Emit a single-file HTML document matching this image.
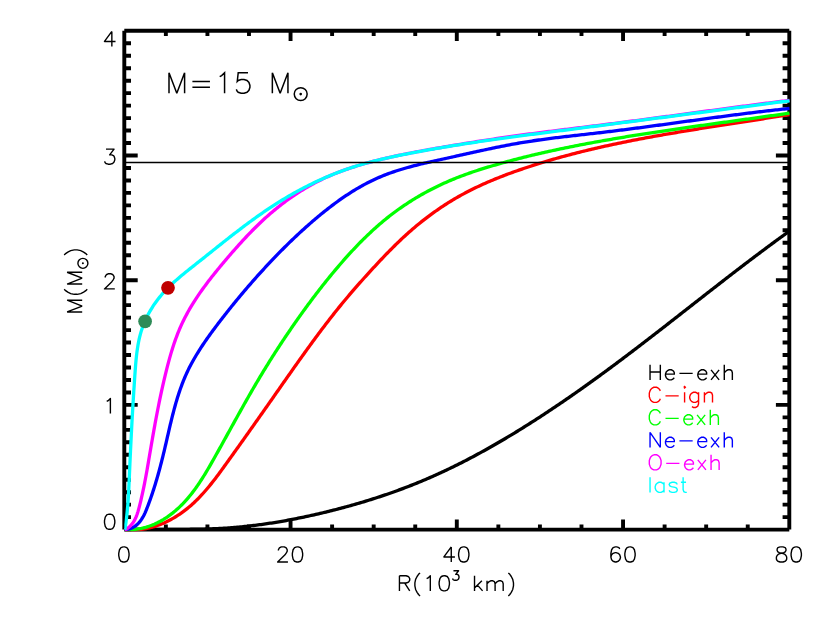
<!DOCTYPE html>
<html><head><meta charset="utf-8"><title>M(R) profile, M=15 Msun</title>
<style>html,body{margin:0;padding:0;background:#fff;font-family:"Liberation Sans",sans-serif}svg{display:block}</style>
</head><body>
<svg width="830" height="623" viewBox="0 0 830 623">
<rect width="830" height="623" fill="#fff"/>
<path d="M124.3 30.8 H789.3 M789.3 30.8 V529.6 M789.3 529.6 H124.3 M124.3 529.6 V30.8" fill="none" stroke="#000" stroke-width="3.9" stroke-linejoin="miter"/>
<path d="M165.86 529.6 v-5.1 M165.86 30.8 v5.1 M207.43 529.6 v-5.1 M207.43 30.8 v5.1 M248.99 529.6 v-5.1 M248.99 30.8 v5.1 M290.55 529.6 v-10.2 M290.55 30.8 v10.2 M332.11 529.6 v-5.1 M332.11 30.8 v5.1 M373.68 529.6 v-5.1 M373.68 30.8 v5.1 M415.24 529.6 v-5.1 M415.24 30.8 v5.1 M456.8 529.6 v-10.2 M456.8 30.8 v10.2 M498.36 529.6 v-5.1 M498.36 30.8 v5.1 M539.92 529.6 v-5.1 M539.92 30.8 v5.1 M581.49 529.6 v-5.1 M581.49 30.8 v5.1 M623.05 529.6 v-10.2 M623.05 30.8 v10.2 M664.61 529.6 v-5.1 M664.61 30.8 v5.1 M706.17 529.6 v-5.1 M706.17 30.8 v5.1 M747.74 529.6 v-5.1 M747.74 30.8 v5.1 M124.3 517.13 h6.7 M789.3 517.13 h-6.7 M124.3 504.66 h6.7 M789.3 504.66 h-6.7 M124.3 492.19 h6.7 M789.3 492.19 h-6.7 M124.3 479.72 h6.7 M789.3 479.72 h-6.7 M124.3 467.25 h6.7 M789.3 467.25 h-6.7 M124.3 454.78 h6.7 M789.3 454.78 h-6.7 M124.3 442.31 h6.7 M789.3 442.31 h-6.7 M124.3 429.84 h6.7 M789.3 429.84 h-6.7 M124.3 417.37 h6.7 M789.3 417.37 h-6.7 M124.3 404.9 h13.4 M789.3 404.9 h-13.4 M124.3 392.43 h6.7 M789.3 392.43 h-6.7 M124.3 379.96 h6.7 M789.3 379.96 h-6.7 M124.3 367.49 h6.7 M789.3 367.49 h-6.7 M124.3 355.02 h6.7 M789.3 355.02 h-6.7 M124.3 342.55 h6.7 M789.3 342.55 h-6.7 M124.3 330.08 h6.7 M789.3 330.08 h-6.7 M124.3 317.61 h6.7 M789.3 317.61 h-6.7 M124.3 305.14 h6.7 M789.3 305.14 h-6.7 M124.3 292.67 h6.7 M789.3 292.67 h-6.7 M124.3 280.2 h13.4 M789.3 280.2 h-13.4 M124.3 267.73 h6.7 M789.3 267.73 h-6.7 M124.3 255.26 h6.7 M789.3 255.26 h-6.7 M124.3 242.79 h6.7 M789.3 242.79 h-6.7 M124.3 230.32 h6.7 M789.3 230.32 h-6.7 M124.3 217.85 h6.7 M789.3 217.85 h-6.7 M124.3 205.38 h6.7 M789.3 205.38 h-6.7 M124.3 192.91 h6.7 M789.3 192.91 h-6.7 M124.3 180.44 h6.7 M789.3 180.44 h-6.7 M124.3 167.97 h6.7 M789.3 167.97 h-6.7 M124.3 155.5 h13.4 M789.3 155.5 h-13.4 M124.3 143.03 h6.7 M789.3 143.03 h-6.7 M124.3 130.56 h6.7 M789.3 130.56 h-6.7 M124.3 118.09 h6.7 M789.3 118.09 h-6.7 M124.3 105.62 h6.7 M789.3 105.62 h-6.7 M124.3 93.15 h6.7 M789.3 93.15 h-6.7 M124.3 80.68 h6.7 M789.3 80.68 h-6.7 M124.3 68.21 h6.7 M789.3 68.21 h-6.7 M124.3 55.74 h6.7 M789.3 55.74 h-6.7 M124.3 43.27 h6.7 M789.3 43.27 h-6.7" fill="none" stroke="#000" stroke-width="3.9"/>
<clipPath id="c"><rect x="124.3" y="30.8" width="666.9" height="500.7"/></clipPath>
<g fill="none" stroke-linejoin="round" stroke-linecap="butt" clip-path="url(#c)">
<path d="M124.61 529.65 L126.11 529.61 L127.6 529.57 L129.1 529.54 L130.59 529.5 L132.09 529.47 L133.59 529.44 L135.09 529.42 L136.58 529.4 L138.08 529.38 L139.58 529.36 L141.08 529.35 L142.58 529.33 L144.08 529.32 L145.58 529.31 L147.08 529.31 L148.58 529.3 L150.09 529.3 L151.59 529.29 L153.09 529.29 L154.59 529.29 L156.1 529.29 L157.6 529.29 L159.1 529.29 L160.61 529.3 L162.11 529.3 L163.61 529.3 L165.12 529.31 L166.62 529.31 L168.13 529.31 L169.63 529.32 L171.14 529.32 L172.64 529.32 L174.15 529.32 L175.65 529.32 L177.16 529.32 L178.66 529.32 L180.17 529.32 L181.67 529.32 L183.18 529.31 L184.68 529.31 L186.19 529.3 L187.69 529.29 L189.2 529.28 L190.7 529.27 L192.21 529.25 L193.71 529.24 L195.22 529.22 L196.72 529.2 L198.22 529.17 L199.73 529.14 L201.23 529.11 L202.74 529.08 L204.24 529.04 L205.74 529.01 L207.25 528.96 L208.75 528.92 L210.25 528.87 L211.75 528.81 L213.25 528.76 L214.76 528.69 L216.26 528.63 L217.76 528.56 L219.26 528.49 L220.76 528.41 L222.26 528.32 L223.76 528.24 L225.25 528.14 L226.75 528.05 L228.25 527.94 L229.75 527.84 L231.24 527.73 L232.74 527.61 L234.24 527.49 L235.73 527.36 L237.23 527.23 L238.72 527.1 L240.22 526.96 L241.71 526.81 L243.2 526.66 L244.69 526.51 L246.19 526.35 L247.68 526.19 L249.17 526.02 L250.66 525.85 L252.15 525.67 L253.64 525.49 L255.13 525.31 L256.62 525.12 L258.1 524.93 L259.59 524.73 L261.08 524.53 L262.56 524.33 L264.05 524.12 L265.54 523.9 L267.02 523.69 L268.51 523.47 L269.99 523.24 L271.47 523.01 L272.95 522.78 L274.44 522.54 L275.92 522.3 L277.4 522.05 L278.88 521.81 L280.36 521.55 L281.84 521.3 L283.32 521.04 L284.79 520.77 L286.27 520.51 L287.75 520.24 L289.23 519.96 L290.7 519.68 L292.18 519.4 L293.65 519.12 L295.12 518.83 L296.6 518.54 L298.07 518.24 L299.54 517.95 L301.01 517.64 L302.48 517.34 L303.96 517.03 L305.42 516.72 L306.89 516.4 L308.36 516.09 L309.83 515.76 L311.3 515.44 L312.76 515.11 L314.23 514.78 L315.69 514.45 L317.16 514.11 L318.62 513.77 L320.09 513.43 L321.55 513.09 L323.01 512.74 L324.47 512.39 L325.93 512.03 L327.39 511.68 L328.85 511.32 L330.31 510.96 L331.77 510.59 L333.22 510.22 L334.68 509.85 L336.13 509.48 L337.59 509.1 L339.04 508.72 L340.5 508.34 L341.95 507.95 L343.4 507.56 L344.85 507.17 L346.3 506.78 L347.75 506.38 L349.19 505.98 L350.64 505.57 L352.09 505.17 L353.53 504.76 L354.98 504.34 L356.42 503.93 L357.86 503.51 L359.3 503.09 L360.74 502.66 L362.18 502.23 L363.62 501.8 L365.06 501.36 L366.5 500.93 L367.93 500.48 L369.36 500.04 L370.8 499.59 L372.23 499.14 L373.66 498.69 L375.09 498.23 L376.52 497.77 L377.95 497.3 L379.37 496.83 L380.8 496.36 L382.22 495.89 L383.64 495.41 L385.06 494.93 L386.49 494.44 L387.9 493.95 L389.32 493.46 L390.74 492.96 L392.15 492.47 L393.57 491.96 L394.98 491.46 L396.39 490.95 L397.8 490.43 L399.21 489.92 L400.62 489.4 L402.02 488.87 L403.43 488.35 L404.83 487.82 L406.23 487.28 L407.63 486.74 L409.03 486.2 L410.43 485.66 L411.83 485.11 L413.22 484.55 L414.61 484 L416 483.44 L417.39 482.87 L418.78 482.3 L420.17 481.73 L421.55 481.16 L422.94 480.58 L424.32 479.99 L425.7 479.41 L427.08 478.82 L428.46 478.22 L429.83 477.62 L431.21 477.02 L432.58 476.42 L433.95 475.81 L435.32 475.19 L436.69 474.58 L438.06 473.96 L439.42 473.33 L440.79 472.71 L442.15 472.08 L443.51 471.44 L444.87 470.8 L446.22 470.16 L447.58 469.52 L448.93 468.87 L450.29 468.22 L451.64 467.57 L452.99 466.91 L454.34 466.25 L455.68 465.58 L457.03 464.92 L458.37 464.25 L459.72 463.57 L461.06 462.9 L462.4 462.22 L463.73 461.53 L465.07 460.85 L466.41 460.16 L467.74 459.46 L469.07 458.77 L470.4 458.07 L471.73 457.37 L473.06 456.67 L474.39 455.96 L475.71 455.25 L477.03 454.54 L478.36 453.82 L479.68 453.11 L481 452.39 L482.32 451.66 L483.63 450.94 L484.95 450.21 L486.26 449.48 L487.57 448.74 L488.88 448.01 L490.19 447.27 L491.5 446.53 L492.81 445.78 L494.11 445.04 L495.42 444.29 L496.72 443.54 L498.02 442.78 L499.32 442.03 L500.62 441.27 L501.92 440.51 L503.22 439.75 L504.51 438.98 L505.8 438.22 L507.1 437.45 L508.39 436.67 L509.68 435.9 L510.97 435.13 L512.25 434.35 L513.54 433.57 L514.82 432.79 L516.11 432 L517.39 431.22 L518.67 430.43 L519.95 429.64 L521.22 428.85 L522.5 428.05 L523.78 427.26 L525.05 426.46 L526.32 425.66 L527.6 424.86 L528.87 424.06 L530.14 423.26 L531.4 422.45 L532.67 421.64 L533.94 420.83 L535.2 420.02 L536.46 419.21 L537.73 418.39 L538.99 417.58 L540.25 416.76 L541.5 415.94 L542.76 415.12 L544.02 414.3 L545.27 413.47 L546.53 412.65 L547.78 411.82 L549.03 410.99 L550.28 410.16 L551.53 409.33 L552.78 408.49 L554.03 407.66 L555.27 406.82 L556.52 405.98 L557.76 405.14 L559.01 404.3 L560.25 403.46 L561.49 402.62 L562.73 401.77 L563.97 400.92 L565.21 400.07 L566.45 399.22 L567.68 398.37 L568.92 397.52 L570.15 396.67 L571.39 395.81 L572.62 394.95 L573.85 394.1 L575.08 393.24 L576.31 392.38 L577.54 391.51 L578.77 390.65 L579.99 389.79 L581.22 388.92 L582.44 388.05 L583.67 387.18 L584.89 386.32 L586.11 385.44 L587.34 384.57 L588.56 383.7 L589.78 382.83 L591 381.95 L592.21 381.07 L593.43 380.2 L594.65 379.32 L595.86 378.44 L597.08 377.56 L598.29 376.67 L599.51 375.79 L600.72 374.91 L601.93 374.02 L603.14 373.13 L604.35 372.25 L605.56 371.36 L606.77 370.47 L607.98 369.58 L609.19 368.69 L610.4 367.8 L611.6 366.9 L612.81 366.01 L614.01 365.11 L615.22 364.22 L616.42 363.32 L617.63 362.42 L618.83 361.52 L620.03 360.62 L621.23 359.72 L622.43 358.82 L623.63 357.92 L624.83 357.02 L626.03 356.11 L627.23 355.21 L628.43 354.3 L629.62 353.4 L630.82 352.49 L632.02 351.58 L633.21 350.67 L634.41 349.76 L635.6 348.85 L636.79 347.94 L637.99 347.03 L639.18 346.12 L640.37 345.21 L641.57 344.3 L642.76 343.38 L643.95 342.47 L645.14 341.55 L646.33 340.64 L647.52 339.72 L648.71 338.81 L649.9 337.89 L651.09 336.97 L652.28 336.05 L653.47 335.14 L654.65 334.22 L655.84 333.3 L657.03 332.38 L658.22 331.46 L659.4 330.54 L660.59 329.62 L661.78 328.7 L662.96 327.77 L664.15 326.85 L665.33 325.93 L666.52 325.01 L667.7 324.08 L668.89 323.16 L670.07 322.24 L671.26 321.31 L672.44 320.39 L673.63 319.47 L674.81 318.54 L675.99 317.62 L677.18 316.69 L678.36 315.77 L679.54 314.84 L680.73 313.92 L681.91 312.99 L683.09 312.07 L684.28 311.14 L685.46 310.22 L686.64 309.29 L687.83 308.37 L689.01 307.44 L690.19 306.52 L691.38 305.59 L692.56 304.66 L693.74 303.74 L694.93 302.81 L696.11 301.89 L697.29 300.96 L698.48 300.04 L699.66 299.11 L700.84 298.19 L702.03 297.26 L703.21 296.34 L704.4 295.41 L705.58 294.49 L706.76 293.56 L707.95 292.64 L709.13 291.72 L710.32 290.79 L711.5 289.87 L712.69 288.95 L713.87 288.02 L715.06 287.1 L716.24 286.18 L717.43 285.26 L718.62 284.33 L719.8 283.41 L720.99 282.49 L722.18 281.57 L723.36 280.65 L724.55 279.73 L725.74 278.81 L726.93 277.89 L728.12 276.98 L729.3 276.06 L730.49 275.14 L731.68 274.22 L732.87 273.31 L734.06 272.39 L735.25 271.48 L736.45 270.56 L737.64 269.65 L738.83 268.73 L740.02 267.82 L741.22 266.91 L742.41 266 L743.6 265.09 L744.8 264.17 L745.99 263.27 L747.19 262.36 L748.38 261.45 L749.58 260.54 L750.78 259.63 L751.97 258.73 L753.17 257.82 L754.37 256.92 L755.57 256.01 L756.77 255.11 L757.97 254.21 L759.17 253.31 L760.37 252.41 L761.58 251.51 L762.78 250.61 L763.98 249.71 L765.19 248.81 L766.39 247.92 L767.6 247.02 L768.8 246.13 L770.01 245.23 L771.22 244.34 L772.43 243.45 L773.64 242.56 L774.85 241.67 L776.06 240.78 L777.27 239.89 L778.48 239.01 L779.7 238.12 L780.91 237.24 L782.12 236.36 L783.34 235.47 L784.56 234.59 L785.77 233.71 L786.99 232.84 L788.21 231.96 L789.43 231.08" stroke="#000" stroke-width="3.3"/>
<path d="M124.56 529.49 L126.27 529.66 L127.98 529.79 L129.68 529.88 L131.37 529.92 L133.06 529.93 L134.74 529.89 L136.42 529.82 L138.09 529.7 L139.75 529.55 L141.4 529.36 L143.04 529.13 L144.68 528.87 L146.3 528.57 L147.92 528.24 L149.53 527.87 L151.13 527.47 L152.73 527.04 L154.31 526.57 L155.88 526.07 L157.44 525.54 L158.99 524.98 L160.53 524.39 L162.06 523.77 L163.58 523.13 L165.09 522.45 L166.58 521.75 L168.07 521.02 L169.54 520.26 L171 519.48 L172.45 518.67 L173.88 517.84 L175.3 516.99 L176.71 516.11 L178.11 515.21 L179.49 514.29 L180.86 513.35 L182.21 512.39 L183.55 511.41 L184.87 510.41 L186.18 509.39 L187.48 508.35 L188.76 507.29 L190.02 506.22 L191.27 505.14 L192.5 504.03 L193.72 502.92 L194.92 501.78 L196.11 500.64 L197.29 499.48 L198.45 498.3 L199.6 497.12 L200.74 495.92 L201.86 494.71 L202.97 493.49 L204.08 492.26 L205.17 491.01 L206.25 489.76 L207.32 488.5 L208.39 487.23 L209.44 485.95 L210.49 484.66 L211.53 483.37 L212.56 482.07 L213.58 480.76 L214.6 479.45 L215.61 478.13 L216.61 476.8 L217.61 475.47 L218.61 474.14 L219.6 472.8 L220.59 471.46 L221.57 470.12 L222.55 468.77 L223.53 467.43 L224.5 466.08 L225.47 464.73 L226.44 463.38 L227.41 462.03 L228.38 460.68 L229.35 459.33 L230.32 457.98 L231.29 456.63 L232.26 455.28 L233.22 453.93 L234.19 452.59 L235.15 451.24 L236.11 449.89 L237.08 448.54 L238.04 447.19 L239 445.84 L239.96 444.49 L240.92 443.15 L241.88 441.8 L242.84 440.45 L243.8 439.1 L244.76 437.75 L245.72 436.4 L246.67 435.06 L247.63 433.71 L248.58 432.36 L249.54 431.01 L250.5 429.66 L251.45 428.31 L252.4 426.96 L253.36 425.61 L254.31 424.26 L255.26 422.91 L256.22 421.56 L257.17 420.21 L258.12 418.86 L259.07 417.51 L260.02 416.16 L260.97 414.81 L261.92 413.46 L262.87 412.11 L263.82 410.76 L264.77 409.41 L265.72 408.05 L266.67 406.7 L267.62 405.35 L268.57 404 L269.52 402.64 L270.46 401.29 L271.41 399.94 L272.36 398.58 L273.31 397.23 L274.26 395.87 L275.21 394.52 L276.15 393.16 L277.1 391.8 L278.05 390.45 L279 389.09 L279.95 387.74 L280.89 386.38 L281.84 385.02 L282.79 383.67 L283.74 382.31 L284.69 380.95 L285.64 379.6 L286.59 378.24 L287.54 376.89 L288.5 375.53 L289.45 374.18 L290.4 372.82 L291.36 371.47 L292.31 370.11 L293.27 368.76 L294.22 367.4 L295.18 366.05 L296.14 364.7 L297.1 363.35 L298.06 362 L299.02 360.65 L299.98 359.3 L300.94 357.95 L301.9 356.6 L302.87 355.25 L303.84 353.91 L304.8 352.56 L305.77 351.22 L306.74 349.87 L307.71 348.53 L308.69 347.19 L309.66 345.85 L310.64 344.51 L311.61 343.17 L312.59 341.84 L313.57 340.5 L314.56 339.17 L315.54 337.83 L316.53 336.5 L317.51 335.17 L318.5 333.84 L319.49 332.52 L320.49 331.19 L321.48 329.86 L322.48 328.54 L323.48 327.22 L324.48 325.9 L325.48 324.59 L326.49 323.27 L327.5 321.96 L328.51 320.65 L329.52 319.34 L330.54 318.03 L331.55 316.72 L332.58 315.42 L333.6 314.12 L334.63 312.82 L335.66 311.53 L336.69 310.24 L337.73 308.95 L338.77 307.66 L339.81 306.38 L340.85 305.09 L341.9 303.82 L342.95 302.54 L344.01 301.27 L345.07 300 L346.13 298.73 L347.19 297.46 L348.26 296.2 L349.33 294.94 L350.41 293.68 L351.48 292.43 L352.56 291.17 L353.64 289.92 L354.73 288.67 L355.81 287.43 L356.9 286.18 L357.99 284.94 L359.09 283.7 L360.18 282.46 L361.28 281.22 L362.38 279.99 L363.49 278.75 L364.59 277.52 L365.7 276.29 L366.81 275.07 L367.92 273.84 L369.04 272.61 L370.15 271.39 L371.27 270.17 L372.39 268.95 L373.51 267.73 L374.63 266.51 L375.76 265.3 L376.89 264.08 L378.02 262.87 L379.15 261.66 L380.29 260.45 L381.42 259.25 L382.56 258.05 L383.71 256.85 L384.85 255.65 L386 254.46 L387.16 253.27 L388.32 252.08 L389.48 250.9 L390.64 249.72 L391.81 248.55 L392.98 247.38 L394.16 246.21 L395.34 245.05 L396.52 243.89 L397.71 242.74 L398.9 241.59 L400.1 240.44 L401.3 239.31 L402.51 238.17 L403.73 237.04 L404.94 235.92 L406.17 234.81 L407.4 233.7 L408.63 232.59 L409.87 231.49 L411.12 230.4 L412.37 229.32 L413.63 228.24 L414.89 227.17 L416.16 226.1 L417.43 225.04 L418.72 223.99 L420 222.95 L421.3 221.91 L422.59 220.88 L423.9 219.86 L425.21 218.84 L426.52 217.83 L427.84 216.83 L429.17 215.83 L430.5 214.85 L431.84 213.87 L433.18 212.9 L434.53 211.93 L435.89 210.98 L437.25 210.03 L438.61 209.09 L439.98 208.16 L441.36 207.23 L442.74 206.32 L444.12 205.41 L445.51 204.51 L446.91 203.62 L448.31 202.73 L449.72 201.86 L451.13 200.99 L452.55 200.14 L453.97 199.29 L455.39 198.45 L456.83 197.62 L458.26 196.79 L459.7 195.98 L461.15 195.17 L462.6 194.38 L464.06 193.59 L465.52 192.81 L466.98 192.04 L468.45 191.28 L469.92 190.53 L471.4 189.78 L472.88 189.05 L474.37 188.32 L475.86 187.6 L477.35 186.88 L478.85 186.18 L480.35 185.48 L481.86 184.79 L483.36 184.11 L484.88 183.43 L486.39 182.76 L487.91 182.1 L489.43 181.45 L490.96 180.8 L492.48 180.16 L494.02 179.52 L495.55 178.89 L497.09 178.27 L498.63 177.66 L500.17 177.05 L501.71 176.44 L503.26 175.84 L504.81 175.25 L506.36 174.67 L507.91 174.08 L509.47 173.51 L511.02 172.94 L512.58 172.37 L514.14 171.81 L515.71 171.26 L517.27 170.71 L518.84 170.16 L520.4 169.62 L521.97 169.08 L523.54 168.55 L525.11 168.02 L526.69 167.5 L528.26 166.98 L529.83 166.46 L531.41 165.95 L532.99 165.44 L534.56 164.94 L536.14 164.44 L537.72 163.94 L539.3 163.45 L540.89 162.96 L542.47 162.48 L544.05 162 L545.64 161.52 L547.22 161.05 L548.81 160.58 L550.4 160.11 L551.99 159.65 L553.58 159.19 L555.17 158.73 L556.76 158.28 L558.35 157.84 L559.94 157.39 L561.54 156.95 L563.13 156.51 L564.73 156.08 L566.33 155.65 L567.92 155.22 L569.52 154.8 L571.12 154.37 L572.72 153.96 L574.32 153.54 L575.92 153.13 L577.53 152.72 L579.13 152.32 L580.74 151.92 L582.34 151.52 L583.95 151.12 L585.55 150.73 L587.16 150.34 L588.77 149.95 L590.38 149.57 L591.99 149.18 L593.6 148.81 L595.21 148.43 L596.82 148.06 L598.43 147.69 L600.05 147.32 L601.66 146.95 L603.28 146.59 L604.89 146.23 L606.51 145.87 L608.12 145.52 L609.74 145.17 L611.36 144.82 L612.98 144.47 L614.6 144.13 L616.22 143.78 L617.84 143.44 L619.46 143.1 L621.08 142.77 L622.7 142.44 L624.32 142.11 L625.95 141.78 L627.57 141.45 L629.19 141.12 L630.82 140.8 L632.44 140.48 L634.07 140.16 L635.69 139.85 L637.32 139.53 L638.95 139.22 L640.58 138.91 L642.2 138.6 L643.83 138.29 L645.46 137.99 L647.09 137.69 L648.72 137.38 L650.35 137.08 L651.98 136.79 L653.61 136.49 L655.24 136.2 L656.88 135.9 L658.51 135.61 L660.14 135.32 L661.77 135.03 L663.41 134.74 L665.04 134.46 L666.67 134.17 L668.31 133.89 L669.94 133.61 L671.58 133.33 L673.21 133.05 L674.85 132.77 L676.48 132.5 L678.12 132.22 L679.75 131.95 L681.39 131.67 L683.03 131.4 L684.66 131.13 L686.3 130.86 L687.94 130.59 L689.58 130.32 L691.21 130.06 L692.85 129.79 L694.49 129.53 L696.13 129.26 L697.76 129 L699.4 128.73 L701.04 128.47 L702.68 128.21 L704.32 127.95 L705.96 127.69 L707.6 127.43 L709.24 127.17 L710.87 126.91 L712.51 126.66 L714.15 126.4 L715.79 126.14 L717.43 125.88 L719.07 125.63 L720.71 125.37 L722.35 125.12 L723.99 124.86 L725.63 124.61 L727.27 124.35 L728.91 124.1 L730.55 123.85 L732.19 123.59 L733.82 123.34 L735.46 123.08 L737.1 122.83 L738.74 122.58 L740.38 122.32 L742.02 122.07 L743.66 121.82 L745.3 121.56 L746.94 121.31 L748.57 121.05 L750.21 120.8 L751.85 120.54 L753.49 120.29 L755.13 120.03 L756.76 119.78 L758.4 119.52 L760.04 119.27 L761.68 119.01 L763.31 118.75 L764.95 118.49 L766.59 118.24 L768.22 117.98 L769.86 117.72 L771.49 117.46 L773.13 117.2 L774.77 116.94 L776.4 116.67 L778.03 116.41 L779.67 116.15 L781.3 115.88 L782.94 115.62 L784.57 115.35 L786.2 115.09 L787.84 114.82 L789.47 114.55" stroke="#ff0000" stroke-width="3.3"/>
<path d="M124.5 529.44 L126.27 529.56 L128.02 529.62 L129.76 529.63 L131.49 529.59 L133.21 529.5 L134.91 529.36 L136.61 529.17 L138.28 528.93 L139.95 528.65 L141.6 528.33 L143.24 527.96 L144.87 527.54 L146.48 527.09 L148.08 526.59 L149.66 526.06 L151.23 525.48 L152.78 524.87 L154.32 524.22 L155.84 523.53 L157.35 522.81 L158.84 522.05 L160.31 521.27 L161.77 520.45 L163.22 519.6 L164.64 518.72 L166.05 517.81 L167.45 516.87 L168.82 515.9 L170.18 514.91 L171.52 513.9 L172.85 512.86 L174.15 511.79 L175.44 510.71 L176.71 509.6 L177.96 508.48 L179.19 507.34 L180.4 506.17 L181.59 504.99 L182.77 503.8 L183.92 502.59 L185.06 501.36 L186.18 500.12 L187.29 498.86 L188.37 497.59 L189.44 496.31 L190.5 495.01 L191.54 493.7 L192.57 492.38 L193.58 491.05 L194.58 489.71 L195.57 488.35 L196.54 486.98 L197.5 485.61 L198.45 484.23 L199.39 482.83 L200.32 481.43 L201.24 480.02 L202.15 478.6 L203.05 477.18 L203.94 475.75 L204.83 474.31 L205.71 472.87 L206.58 471.42 L207.44 469.97 L208.3 468.51 L209.15 467.05 L210 465.59 L210.84 464.12 L211.68 462.65 L212.52 461.18 L213.35 459.71 L214.18 458.23 L215.01 456.76 L215.84 455.29 L216.67 453.81 L217.49 452.34 L218.31 450.86 L219.14 449.39 L219.96 447.91 L220.78 446.44 L221.6 444.96 L222.42 443.49 L223.23 442.01 L224.05 440.54 L224.87 439.06 L225.68 437.59 L226.5 436.12 L227.31 434.64 L228.12 433.17 L228.94 431.7 L229.75 430.22 L230.57 428.75 L231.38 427.28 L232.19 425.81 L233.01 424.33 L233.82 422.86 L234.63 421.39 L235.45 419.92 L236.26 418.45 L237.08 416.98 L237.9 415.52 L238.71 414.05 L239.53 412.58 L240.35 411.12 L241.17 409.65 L241.99 408.19 L242.81 406.72 L243.63 405.26 L244.46 403.8 L245.28 402.34 L246.11 400.88 L246.94 399.42 L247.77 397.96 L248.6 396.5 L249.43 395.04 L250.27 393.59 L251.1 392.13 L251.94 390.68 L252.78 389.23 L253.62 387.78 L254.47 386.33 L255.32 384.88 L256.17 383.44 L257.02 381.99 L257.87 380.55 L258.73 379.1 L259.59 377.66 L260.45 376.22 L261.32 374.78 L262.18 373.35 L263.05 371.91 L263.93 370.48 L264.8 369.05 L265.68 367.61 L266.56 366.18 L267.45 364.76 L268.33 363.33 L269.22 361.91 L270.11 360.48 L271.01 359.06 L271.9 357.64 L272.8 356.22 L273.71 354.8 L274.61 353.39 L275.52 351.97 L276.43 350.56 L277.34 349.15 L278.26 347.74 L279.18 346.33 L280.1 344.92 L281.02 343.52 L281.95 342.12 L282.88 340.71 L283.81 339.31 L284.74 337.91 L285.68 336.52 L286.62 335.12 L287.56 333.73 L288.5 332.34 L289.45 330.95 L290.4 329.56 L291.35 328.17 L292.31 326.78 L293.27 325.4 L294.23 324.02 L295.19 322.64 L296.16 321.26 L297.12 319.88 L298.1 318.51 L299.07 317.13 L300.05 315.76 L301.02 314.39 L302.01 313.02 L302.99 311.65 L303.98 310.29 L304.97 308.93 L305.96 307.56 L306.95 306.21 L307.95 304.85 L308.95 303.49 L309.96 302.14 L310.96 300.79 L311.97 299.44 L312.98 298.09 L314 296.75 L315.02 295.41 L316.04 294.07 L317.06 292.73 L318.09 291.4 L319.12 290.06 L320.15 288.73 L321.19 287.41 L322.23 286.08 L323.27 284.76 L324.32 283.44 L325.37 282.13 L326.42 280.81 L327.48 279.5 L328.54 278.19 L329.6 276.89 L330.67 275.59 L331.74 274.29 L332.81 272.99 L333.89 271.7 L334.97 270.41 L336.05 269.12 L337.14 267.84 L338.23 266.56 L339.32 265.28 L340.42 264.01 L341.52 262.74 L342.62 261.47 L343.73 260.21 L344.84 258.95 L345.96 257.7 L347.08 256.45 L348.21 255.2 L349.33 253.96 L350.47 252.72 L351.61 251.48 L352.75 250.25 L353.89 249.03 L355.04 247.81 L356.2 246.59 L357.36 245.38 L358.53 244.17 L359.7 242.97 L360.87 241.78 L362.05 240.59 L363.24 239.41 L364.43 238.23 L365.63 237.06 L366.83 235.89 L368.04 234.73 L369.26 233.58 L370.48 232.43 L371.7 231.29 L372.93 230.15 L374.17 229.02 L375.42 227.9 L376.67 226.79 L377.93 225.68 L379.19 224.58 L380.46 223.49 L381.74 222.41 L383.02 221.33 L384.31 220.26 L385.61 219.2 L386.92 218.14 L388.23 217.1 L389.55 216.06 L390.88 215.03 L392.21 214.01 L393.55 212.99 L394.9 211.99 L396.26 210.99 L397.62 210.01 L398.99 209.03 L400.36 208.06 L401.75 207.09 L403.14 206.14 L404.53 205.2 L405.94 204.26 L407.34 203.33 L408.76 202.41 L410.18 201.5 L411.61 200.6 L413.04 199.71 L414.48 198.83 L415.92 197.95 L417.37 197.09 L418.83 196.23 L420.29 195.39 L421.76 194.55 L423.23 193.72 L424.7 192.9 L426.18 192.09 L427.67 191.29 L429.16 190.49 L430.66 189.71 L432.16 188.94 L433.66 188.17 L435.17 187.42 L436.69 186.67 L438.21 185.93 L439.73 185.21 L441.25 184.49 L442.78 183.78 L444.32 183.08 L445.86 182.4 L447.4 181.72 L448.94 181.05 L450.49 180.39 L452.04 179.74 L453.6 179.1 L455.16 178.46 L456.72 177.84 L458.28 177.23 L459.85 176.62 L461.42 176.02 L462.99 175.43 L464.57 174.85 L466.15 174.28 L467.73 173.71 L469.32 173.15 L470.9 172.6 L472.49 172.06 L474.08 171.52 L475.68 170.99 L477.27 170.46 L478.87 169.94 L480.47 169.43 L482.07 168.92 L483.67 168.42 L485.28 167.92 L486.88 167.43 L488.49 166.94 L490.1 166.46 L491.71 165.99 L493.33 165.51 L494.94 165.05 L496.56 164.58 L498.17 164.12 L499.79 163.67 L501.41 163.21 L503.03 162.76 L504.65 162.32 L506.27 161.87 L507.89 161.44 L509.51 161 L511.14 160.57 L512.76 160.14 L514.39 159.71 L516.02 159.29 L517.64 158.87 L519.27 158.45 L520.9 158.04 L522.53 157.63 L524.16 157.22 L525.79 156.82 L527.43 156.42 L529.06 156.02 L530.69 155.62 L532.33 155.23 L533.96 154.84 L535.6 154.45 L537.23 154.07 L538.87 153.69 L540.51 153.31 L542.15 152.94 L543.79 152.56 L545.43 152.19 L547.07 151.83 L548.71 151.46 L550.35 151.1 L552 150.74 L553.64 150.38 L555.28 150.03 L556.93 149.68 L558.57 149.33 L560.22 148.98 L561.86 148.63 L563.51 148.29 L565.16 147.95 L566.81 147.61 L568.45 147.28 L570.1 146.94 L571.75 146.61 L573.4 146.28 L575.05 145.96 L576.7 145.63 L578.35 145.31 L580 144.99 L581.66 144.67 L583.31 144.36 L584.96 144.04 L586.61 143.73 L588.27 143.42 L589.92 143.11 L591.57 142.8 L593.23 142.5 L594.88 142.19 L596.54 141.89 L598.19 141.59 L599.85 141.3 L601.5 141 L603.16 140.7 L604.82 140.41 L606.47 140.12 L608.13 139.83 L609.79 139.54 L611.44 139.26 L613.1 138.97 L614.76 138.69 L616.42 138.41 L618.07 138.12 L619.73 137.85 L621.39 137.57 L623.05 137.29 L624.71 137.02 L626.37 136.74 L628.03 136.47 L629.69 136.2 L631.35 135.93 L633.01 135.66 L634.67 135.4 L636.33 135.13 L637.99 134.87 L639.65 134.6 L641.31 134.34 L642.97 134.08 L644.63 133.82 L646.29 133.56 L647.96 133.3 L649.62 133.05 L651.28 132.79 L652.94 132.54 L654.6 132.28 L656.27 132.03 L657.93 131.78 L659.59 131.53 L661.25 131.28 L662.92 131.03 L664.58 130.78 L666.24 130.53 L667.91 130.29 L669.57 130.04 L671.23 129.8 L672.9 129.55 L674.56 129.31 L676.23 129.07 L677.89 128.83 L679.55 128.59 L681.22 128.34 L682.88 128.1 L684.55 127.87 L686.21 127.63 L687.88 127.39 L689.54 127.15 L691.21 126.91 L692.87 126.68 L694.54 126.44 L696.2 126.21 L697.87 125.97 L699.53 125.74 L701.2 125.5 L702.86 125.27 L704.53 125.04 L706.19 124.8 L707.86 124.57 L709.52 124.34 L711.19 124.1 L712.86 123.87 L714.52 123.64 L716.19 123.41 L717.85 123.18 L719.52 122.95 L721.18 122.72 L722.85 122.48 L724.52 122.25 L726.18 122.02 L727.85 121.79 L729.51 121.56 L731.18 121.33 L732.85 121.1 L734.51 120.87 L736.18 120.64 L737.84 120.41 L739.51 120.18 L741.17 119.95 L742.84 119.72 L744.51 119.48 L746.17 119.25 L747.84 119.02 L749.5 118.79 L751.17 118.56 L752.83 118.32 L754.5 118.09 L756.16 117.86 L757.83 117.63 L759.5 117.39 L761.16 117.16 L762.83 116.92 L764.49 116.69 L766.16 116.45 L767.82 116.22 L769.49 115.98 L771.15 115.74 L772.82 115.51 L774.48 115.27 L776.15 115.03 L777.81 114.79 L779.47 114.55 L781.14 114.31 L782.8 114.07 L784.47 113.83 L786.13 113.59 L787.8 113.34 L789.46 113.1" stroke="#00ff00" stroke-width="3.3"/>
<path d="M124.42 529.65 L126.44 529.44 L128.34 529.08 L130.11 528.58 L131.77 527.96 L133.32 527.21 L134.77 526.34 L136.12 525.37 L137.38 524.3 L138.56 523.14 L139.66 521.9 L140.68 520.57 L141.64 519.18 L142.54 517.73 L143.38 516.23 L144.18 514.68 L144.93 513.09 L145.65 511.47 L146.33 509.82 L146.99 508.16 L147.64 506.5 L148.27 504.83 L148.89 503.17 L149.5 501.5 L150.09 499.84 L150.68 498.18 L151.26 496.51 L151.83 494.85 L152.39 493.19 L152.94 491.54 L153.48 489.88 L154.01 488.22 L154.54 486.56 L155.05 484.9 L155.56 483.24 L156.06 481.58 L156.55 479.93 L157.04 478.27 L157.52 476.61 L157.99 474.94 L158.46 473.28 L158.92 471.62 L159.37 469.95 L159.82 468.29 L160.26 466.62 L160.7 464.95 L161.13 463.28 L161.56 461.61 L161.98 459.93 L162.4 458.26 L162.82 456.58 L163.23 454.89 L163.64 453.21 L164.04 451.52 L164.45 449.83 L164.85 448.14 L165.24 446.44 L165.64 444.75 L166.03 443.05 L166.42 441.34 L166.82 439.64 L167.21 437.93 L167.6 436.22 L167.99 434.51 L168.39 432.8 L168.78 431.09 L169.18 429.38 L169.58 427.66 L169.98 425.95 L170.39 424.24 L170.8 422.53 L171.21 420.82 L171.63 419.11 L172.05 417.4 L172.48 415.7 L172.91 413.99 L173.35 412.29 L173.8 410.59 L174.25 408.89 L174.71 407.2 L175.18 405.51 L175.66 403.82 L176.14 402.14 L176.64 400.46 L177.14 398.78 L177.66 397.11 L178.18 395.45 L178.72 393.78 L179.27 392.13 L179.83 390.48 L180.4 388.83 L180.98 387.19 L181.58 385.56 L182.19 383.94 L182.81 382.32 L183.45 380.71 L184.11 379.1 L184.78 377.5 L185.46 375.91 L186.16 374.33 L186.88 372.76 L187.61 371.2 L188.36 369.64 L189.13 368.09 L189.91 366.55 L190.71 365.02 L191.52 363.5 L192.34 361.98 L193.18 360.47 L194.03 358.97 L194.9 357.47 L195.78 355.98 L196.67 354.5 L197.57 353.02 L198.49 351.55 L199.41 350.08 L200.35 348.62 L201.29 347.17 L202.25 345.72 L203.21 344.27 L204.18 342.84 L205.17 341.4 L206.16 339.97 L207.16 338.54 L208.16 337.12 L209.17 335.7 L210.19 334.29 L211.22 332.88 L212.25 331.47 L213.29 330.07 L214.33 328.67 L215.37 327.27 L216.42 325.87 L217.48 324.48 L218.53 323.09 L219.59 321.7 L220.66 320.31 L221.73 318.92 L222.8 317.54 L223.87 316.16 L224.95 314.78 L226.03 313.41 L227.11 312.03 L228.2 310.66 L229.29 309.3 L230.38 307.93 L231.47 306.57 L232.57 305.21 L233.67 303.85 L234.78 302.49 L235.89 301.14 L237 299.79 L238.11 298.44 L239.23 297.1 L240.35 295.75 L241.47 294.41 L242.6 293.08 L243.72 291.74 L244.85 290.41 L245.99 289.08 L247.13 287.76 L248.26 286.44 L249.41 285.12 L250.55 283.8 L251.7 282.49 L252.85 281.18 L254 279.87 L255.15 278.57 L256.31 277.27 L257.47 275.97 L258.63 274.67 L259.8 273.38 L260.97 272.09 L262.14 270.81 L263.31 269.53 L264.48 268.25 L265.66 266.97 L266.84 265.7 L268.02 264.43 L269.21 263.17 L270.39 261.9 L271.58 260.65 L272.78 259.39 L273.97 258.14 L275.17 256.89 L276.37 255.65 L277.58 254.41 L278.79 253.17 L280 251.93 L281.21 250.7 L282.43 249.47 L283.65 248.25 L284.88 247.03 L286.1 245.81 L287.34 244.6 L288.57 243.39 L289.81 242.18 L291.06 240.98 L292.3 239.78 L293.56 238.58 L294.81 237.39 L296.07 236.2 L297.34 235.02 L298.61 233.84 L299.88 232.66 L301.16 231.48 L302.44 230.31 L303.73 229.15 L305.02 227.98 L306.31 226.82 L307.62 225.67 L308.92 224.52 L310.23 223.37 L311.55 222.22 L312.87 221.08 L314.2 219.94 L315.53 218.81 L316.87 217.68 L318.21 216.56 L319.55 215.44 L320.91 214.33 L322.27 213.22 L323.63 212.12 L325 211.02 L326.37 209.93 L327.75 208.85 L329.14 207.77 L330.53 206.7 L331.93 205.64 L333.33 204.58 L334.74 203.54 L336.15 202.5 L337.57 201.47 L338.99 200.45 L340.42 199.43 L341.86 198.43 L343.3 197.44 L344.75 196.45 L346.2 195.48 L347.66 194.51 L349.13 193.56 L350.6 192.62 L352.08 191.69 L353.56 190.77 L355.05 189.86 L356.55 188.96 L358.05 188.08 L359.56 187.21 L361.07 186.35 L362.59 185.5 L364.12 184.67 L365.65 183.85 L367.19 183.04 L368.73 182.25 L370.28 181.47 L371.84 180.71 L373.41 179.96 L374.98 179.22 L376.55 178.51 L378.14 177.8 L379.73 177.12 L381.32 176.45 L382.92 175.79 L384.53 175.15 L386.15 174.52 L387.77 173.91 L389.39 173.31 L391.03 172.73 L392.66 172.16 L394.3 171.6 L395.95 171.05 L397.6 170.52 L399.26 169.99 L400.91 169.48 L402.58 168.98 L404.25 168.48 L405.92 168 L407.59 167.53 L409.27 167.06 L410.95 166.6 L412.64 166.16 L414.32 165.72 L416.01 165.28 L417.71 164.86 L419.4 164.43 L421.1 164.02 L422.8 163.61 L424.5 163.21 L426.2 162.81 L427.9 162.41 L429.61 162.02 L431.32 161.64 L433.02 161.25 L434.73 160.87 L436.44 160.49 L438.15 160.11 L439.86 159.74 L441.57 159.36 L443.27 158.99 L444.98 158.62 L446.69 158.24 L448.4 157.87 L450.1 157.49 L451.81 157.12 L453.51 156.74 L455.22 156.36 L456.92 155.98 L458.62 155.6 L460.32 155.23 L462.02 154.85 L463.73 154.47 L465.43 154.09 L467.13 153.71 L468.83 153.33 L470.52 152.96 L472.22 152.58 L473.92 152.21 L475.62 151.83 L477.32 151.46 L479.02 151.09 L480.72 150.72 L482.41 150.35 L484.11 149.99 L485.81 149.62 L487.51 149.26 L489.21 148.9 L490.91 148.54 L492.61 148.19 L494.31 147.83 L496.01 147.48 L497.71 147.14 L499.41 146.79 L501.11 146.45 L502.81 146.11 L504.52 145.78 L506.22 145.45 L507.92 145.12 L509.63 144.8 L511.34 144.48 L513.04 144.17 L514.75 143.86 L516.46 143.55 L518.17 143.25 L519.88 142.95 L521.59 142.66 L523.31 142.37 L525.02 142.09 L526.74 141.81 L528.45 141.54 L530.17 141.27 L531.89 141.01 L533.61 140.75 L535.33 140.5 L537.06 140.25 L538.78 140 L540.5 139.76 L542.23 139.52 L543.96 139.29 L545.68 139.05 L547.41 138.83 L549.14 138.6 L550.87 138.38 L552.6 138.16 L554.33 137.94 L556.06 137.73 L557.79 137.52 L559.52 137.31 L561.26 137.1 L562.99 136.89 L564.72 136.69 L566.46 136.49 L568.19 136.29 L569.93 136.09 L571.66 135.89 L573.4 135.69 L575.13 135.49 L576.87 135.3 L578.6 135.1 L580.34 134.91 L582.07 134.71 L583.81 134.52 L585.54 134.32 L587.28 134.13 L589.01 133.93 L590.75 133.73 L592.49 133.54 L594.22 133.34 L595.95 133.14 L597.69 132.94 L599.42 132.74 L601.16 132.54 L602.89 132.34 L604.62 132.13 L606.35 131.92 L608.09 131.72 L609.82 131.51 L611.55 131.3 L613.28 131.08 L615.01 130.87 L616.74 130.66 L618.47 130.44 L620.2 130.23 L621.93 130.01 L623.66 129.79 L625.39 129.57 L627.12 129.35 L628.85 129.13 L630.58 128.9 L632.3 128.68 L634.03 128.46 L635.76 128.23 L637.49 128 L639.21 127.78 L640.94 127.55 L642.67 127.32 L644.39 127.09 L646.12 126.86 L647.84 126.63 L649.57 126.4 L651.3 126.17 L653.02 125.94 L654.75 125.7 L656.47 125.47 L658.2 125.24 L659.92 125 L661.65 124.77 L663.37 124.53 L665.1 124.3 L666.82 124.06 L668.55 123.83 L670.27 123.59 L671.99 123.35 L673.72 123.12 L675.44 122.88 L677.17 122.64 L678.89 122.41 L680.62 122.17 L682.34 121.93 L684.06 121.7 L685.79 121.46 L687.51 121.22 L689.24 120.99 L690.96 120.75 L692.68 120.51 L694.41 120.28 L696.13 120.04 L697.86 119.81 L699.58 119.57 L701.31 119.34 L703.03 119.1 L704.75 118.87 L706.48 118.63 L708.2 118.4 L709.93 118.17 L711.65 117.93 L713.38 117.7 L715.1 117.47 L716.83 117.24 L718.55 117.01 L720.28 116.78 L722.01 116.55 L723.73 116.32 L725.46 116.1 L727.18 115.87 L728.91 115.65 L730.64 115.42 L732.36 115.2 L734.09 114.97 L735.82 114.75 L737.54 114.53 L739.27 114.31 L741 114.09 L742.73 113.87 L744.46 113.66 L746.18 113.44 L747.91 113.23 L749.64 113.01 L751.37 112.8 L753.1 112.59 L754.83 112.38 L756.56 112.17 L758.29 111.97 L760.02 111.76 L761.76 111.56 L763.49 111.36 L765.22 111.16 L766.95 110.96 L768.68 110.76 L770.42 110.56 L772.15 110.37 L773.88 110.17 L775.62 109.98 L777.35 109.79 L779.09 109.6 L780.82 109.42 L782.56 109.23 L784.3 109.05 L786.03 108.87 L787.77 108.69 L789.51 108.51" stroke="#0000ff" stroke-width="3.3"/>
<path d="M124.71 529.89 L126.37 529.01 L127.9 528.02 L129.29 526.92 L130.56 525.73 L131.72 524.45 L132.77 523.09 L133.72 521.65 L134.58 520.15 L135.37 518.59 L136.08 516.97 L136.73 515.31 L137.33 513.62 L137.88 511.89 L138.39 510.14 L138.88 508.37 L139.34 506.6 L139.79 504.83 L140.23 503.05 L140.66 501.28 L141.08 499.51 L141.49 497.73 L141.9 495.96 L142.29 494.19 L142.68 492.42 L143.06 490.65 L143.43 488.88 L143.8 487.1 L144.15 485.33 L144.51 483.57 L144.85 481.8 L145.19 480.03 L145.53 478.26 L145.86 476.49 L146.18 474.72 L146.5 472.96 L146.82 471.19 L147.13 469.42 L147.45 467.66 L147.75 465.89 L148.06 464.12 L148.36 462.36 L148.66 460.59 L148.96 458.83 L149.26 457.06 L149.56 455.3 L149.86 453.53 L150.16 451.77 L150.46 450 L150.76 448.24 L151.06 446.48 L151.36 444.71 L151.66 442.95 L151.96 441.19 L152.27 439.42 L152.58 437.66 L152.89 435.9 L153.2 434.14 L153.51 432.37 L153.82 430.61 L154.14 428.85 L154.46 427.09 L154.78 425.33 L155.1 423.57 L155.42 421.81 L155.75 420.04 L156.08 418.28 L156.41 416.52 L156.75 414.76 L157.09 413 L157.43 411.24 L157.77 409.48 L158.12 407.73 L158.47 405.97 L158.82 404.21 L159.18 402.45 L159.54 400.69 L159.9 398.93 L160.27 397.17 L160.64 395.42 L161.02 393.66 L161.39 391.9 L161.78 390.14 L162.16 388.39 L162.55 386.63 L162.95 384.87 L163.35 383.12 L163.75 381.36 L164.16 379.61 L164.58 377.85 L165 376.1 L165.42 374.34 L165.85 372.59 L166.28 370.83 L166.72 369.08 L167.16 367.33 L167.61 365.57 L168.07 363.82 L168.54 362.08 L169.01 360.33 L169.49 358.59 L169.98 356.85 L170.48 355.11 L170.99 353.38 L171.51 351.65 L172.03 349.92 L172.57 348.2 L173.12 346.48 L173.68 344.77 L174.26 343.07 L174.84 341.37 L175.44 339.67 L176.05 337.98 L176.68 336.3 L177.32 334.63 L177.97 332.96 L178.64 331.3 L179.32 329.65 L180.02 328 L180.74 326.37 L181.47 324.74 L182.22 323.12 L182.99 321.51 L183.77 319.91 L184.57 318.32 L185.38 316.73 L186.21 315.16 L187.06 313.59 L187.91 312.03 L188.79 310.48 L189.68 308.94 L190.58 307.4 L191.49 305.87 L192.42 304.35 L193.36 302.84 L194.31 301.33 L195.28 299.83 L196.25 298.33 L197.24 296.85 L198.24 295.36 L199.25 293.89 L200.27 292.42 L201.3 290.95 L202.34 289.5 L203.39 288.04 L204.44 286.6 L205.51 285.15 L206.58 283.72 L207.67 282.28 L208.76 280.85 L209.85 279.43 L210.96 278.01 L212.07 276.6 L213.19 275.19 L214.31 273.78 L215.44 272.38 L216.57 270.98 L217.71 269.58 L218.86 268.19 L220 266.8 L221.16 265.41 L222.31 264.03 L223.47 262.64 L224.63 261.26 L225.8 259.89 L226.96 258.51 L228.13 257.14 L229.31 255.77 L230.48 254.41 L231.66 253.04 L232.84 251.68 L234.03 250.33 L235.22 248.98 L236.41 247.63 L237.61 246.28 L238.81 244.94 L240.02 243.61 L241.23 242.28 L242.44 240.95 L243.66 239.63 L244.89 238.31 L246.12 237 L247.35 235.69 L248.59 234.39 L249.84 233.1 L251.09 231.81 L252.35 230.53 L253.61 229.25 L254.88 227.99 L256.16 226.72 L257.44 225.47 L258.73 224.22 L260.02 222.98 L261.33 221.75 L262.64 220.52 L263.95 219.3 L265.28 218.09 L266.61 216.89 L267.95 215.7 L269.29 214.51 L270.65 213.34 L272.01 212.17 L273.38 211.01 L274.76 209.86 L276.15 208.73 L277.55 207.6 L278.95 206.48 L280.36 205.37 L281.78 204.27 L283.21 203.18 L284.64 202.1 L286.09 201.03 L287.54 199.97 L289 198.92 L290.47 197.88 L291.94 196.86 L293.42 195.84 L294.91 194.84 L296.41 193.85 L297.92 192.87 L299.43 191.9 L300.95 190.94 L302.47 189.99 L304.01 189.06 L305.55 188.14 L307.1 187.23 L308.66 186.34 L310.22 185.46 L311.79 184.59 L313.37 183.73 L314.95 182.89 L316.54 182.06 L318.14 181.24 L319.75 180.44 L321.36 179.65 L322.98 178.87 L324.6 178.11 L326.23 177.37 L327.87 176.63 L329.52 175.91 L331.17 175.21 L332.82 174.52 L334.49 173.84 L336.16 173.17 L337.83 172.51 L339.51 171.87 L341.19 171.24 L342.88 170.62 L344.57 170.01 L346.27 169.41 L347.97 168.83 L349.67 168.25 L351.38 167.69 L353.09 167.13 L354.81 166.59 L356.53 166.05 L358.25 165.53 L359.97 165.01 L361.7 164.5 L363.43 164 L365.16 163.51 L366.89 163.03 L368.63 162.55 L370.37 162.08 L372.11 161.62 L373.85 161.17 L375.59 160.73 L377.33 160.29 L379.07 159.85 L380.82 159.43 L382.56 159.01 L384.31 158.59 L386.06 158.18 L387.81 157.78 L389.56 157.38 L391.31 156.99 L393.06 156.61 L394.81 156.23 L396.57 155.85 L398.32 155.48 L400.08 155.11 L401.83 154.75 L403.59 154.39 L405.35 154.04 L407.11 153.69 L408.87 153.34 L410.63 153 L412.39 152.66 L414.15 152.32 L415.91 151.99 L417.68 151.66 L419.44 151.34 L421.2 151.01 L422.97 150.69 L424.73 150.37 L426.5 150.05 L428.26 149.74 L430.03 149.42 L431.8 149.11 L433.56 148.8 L435.33 148.49 L437.1 148.18 L438.87 147.88 L440.64 147.57 L442.4 147.27 L444.17 146.96 L445.94 146.66 L447.71 146.36 L449.48 146.06 L451.25 145.77 L453.02 145.47 L454.8 145.17 L456.57 144.88 L458.34 144.59 L460.11 144.3 L461.88 144.01 L463.65 143.72 L465.43 143.43 L467.2 143.14 L468.97 142.86 L470.75 142.58 L472.52 142.29 L474.3 142.01 L476.07 141.73 L477.84 141.46 L479.62 141.18 L481.39 140.91 L483.17 140.63 L484.95 140.36 L486.72 140.09 L488.5 139.82 L490.27 139.55 L492.05 139.28 L493.83 139.02 L495.6 138.75 L497.38 138.49 L499.16 138.23 L500.94 137.97 L502.71 137.71 L504.49 137.46 L506.27 137.2 L508.05 136.95 L509.83 136.69 L511.61 136.44 L513.38 136.19 L515.16 135.95 L516.94 135.7 L518.72 135.45 L520.5 135.21 L522.28 134.97 L524.06 134.73 L525.84 134.49 L527.62 134.25 L529.4 134.01 L531.18 133.78 L532.96 133.55 L534.74 133.31 L536.52 133.08 L538.31 132.85 L540.09 132.62 L541.87 132.39 L543.65 132.17 L545.43 131.94 L547.21 131.72 L548.99 131.49 L550.77 131.27 L552.56 131.04 L554.34 130.82 L556.12 130.6 L557.9 130.38 L559.68 130.16 L561.47 129.94 L563.25 129.72 L565.03 129.5 L566.81 129.28 L568.59 129.06 L570.38 128.84 L572.16 128.63 L573.94 128.41 L575.72 128.19 L577.5 127.97 L579.29 127.75 L581.07 127.53 L582.85 127.32 L584.63 127.1 L586.42 126.88 L588.2 126.66 L589.98 126.44 L591.76 126.22 L593.54 126 L595.33 125.78 L597.11 125.56 L598.89 125.33 L600.67 125.11 L602.46 124.89 L604.24 124.66 L606.02 124.44 L607.8 124.21 L609.58 123.99 L611.36 123.76 L613.15 123.53 L614.93 123.31 L616.71 123.08 L618.49 122.85 L620.27 122.62 L622.05 122.39 L623.84 122.16 L625.62 121.93 L627.4 121.7 L629.18 121.46 L630.96 121.23 L632.74 121 L634.52 120.77 L636.3 120.53 L638.09 120.3 L639.87 120.06 L641.65 119.83 L643.43 119.59 L645.21 119.36 L646.99 119.12 L648.77 118.89 L650.55 118.65 L652.33 118.41 L654.12 118.17 L655.9 117.94 L657.68 117.7 L659.46 117.46 L661.24 117.22 L663.02 116.99 L664.8 116.75 L666.58 116.51 L668.36 116.27 L670.14 116.03 L671.92 115.79 L673.71 115.55 L675.49 115.31 L677.27 115.07 L679.05 114.83 L680.83 114.59 L682.61 114.35 L684.39 114.11 L686.17 113.87 L687.95 113.63 L689.73 113.39 L691.51 113.15 L693.29 112.91 L695.07 112.67 L696.86 112.43 L698.64 112.19 L700.42 111.95 L702.2 111.71 L703.98 111.47 L705.76 111.24 L707.54 111 L709.32 110.76 L711.1 110.52 L712.88 110.28 L714.66 110.04 L716.45 109.8 L718.23 109.56 L720.01 109.33 L721.79 109.09 L723.57 108.85 L725.35 108.61 L727.13 108.38 L728.91 108.14 L730.69 107.9 L732.48 107.67 L734.26 107.43 L736.04 107.2 L737.82 106.96 L739.6 106.73 L741.38 106.49 L743.16 106.26 L744.94 106.03 L746.73 105.79 L748.51 105.56 L750.29 105.33 L752.07 105.1 L753.85 104.87 L755.63 104.64 L757.42 104.41 L759.2 104.18 L760.98 103.95 L762.76 103.72 L764.54 103.49 L766.32 103.26 L768.11 103.04 L769.89 102.81 L771.67 102.59 L773.45 102.36 L775.23 102.14 L777.02 101.91 L778.8 101.69 L780.58 101.47 L782.36 101.25 L784.15 101.03 L785.93 100.81 L787.71 100.59 L789.49 100.37" stroke="#ff00ff" stroke-width="3.3"/>
<path d="M124.83 529.62 L125.13 527.83 L125.41 526.03 L125.68 524.23 L125.94 522.43 L126.18 520.62 L126.41 518.81 L126.63 517 L126.83 515.18 L127.02 513.36 L127.21 511.54 L127.38 509.71 L127.54 507.89 L127.7 506.06 L127.84 504.23 L127.98 502.39 L128.11 500.56 L128.23 498.72 L128.35 496.89 L128.46 495.05 L128.56 493.21 L128.66 491.37 L128.76 489.53 L128.85 487.69 L128.93 485.85 L129.02 484.01 L129.1 482.17 L129.18 480.33 L129.26 478.49 L129.34 476.65 L129.42 474.81 L129.5 472.97 L129.58 471.14 L129.67 469.3 L129.75 467.47 L129.83 465.63 L129.91 463.8 L129.99 461.97 L130.08 460.14 L130.16 458.31 L130.25 456.48 L130.33 454.65 L130.42 452.82 L130.5 450.99 L130.59 449.16 L130.68 447.34 L130.77 445.51 L130.86 443.68 L130.95 441.86 L131.04 440.03 L131.13 438.21 L131.22 436.38 L131.31 434.56 L131.41 432.73 L131.5 430.91 L131.6 429.08 L131.69 427.26 L131.79 425.43 L131.89 423.61 L131.99 421.78 L132.09 419.96 L132.19 418.13 L132.29 416.31 L132.4 414.48 L132.5 412.66 L132.6 410.83 L132.71 409 L132.82 407.17 L132.93 405.35 L133.03 403.52 L133.14 401.69 L133.26 399.86 L133.37 398.03 L133.48 396.2 L133.6 394.37 L133.71 392.54 L133.83 390.7 L133.95 388.87 L134.07 387.04 L134.19 385.2 L134.31 383.36 L134.43 381.53 L134.56 379.69 L134.69 377.85 L134.81 376.01 L134.94 374.17 L135.07 372.32 L135.2 370.48 L135.34 368.63 L135.48 366.79 L135.63 364.95 L135.78 363.1 L135.94 361.26 L136.12 359.42 L136.3 357.58 L136.5 355.75 L136.71 353.92 L136.94 352.09 L137.19 350.27 L137.45 348.45 L137.74 346.64 L138.04 344.83 L138.37 343.03 L138.72 341.24 L139.1 339.45 L139.51 337.67 L139.94 335.9 L140.4 334.14 L140.89 332.39 L141.42 330.64 L141.98 328.91 L142.57 327.19 L143.2 325.48 L143.87 323.78 L144.56 322.09 L145.29 320.41 L146.05 318.75 L146.84 317.1 L147.66 315.47 L148.51 313.85 L149.39 312.24 L150.3 310.65 L151.24 309.08 L152.2 307.52 L153.19 305.98 L154.21 304.45 L155.26 302.94 L156.33 301.46 L157.42 299.98 L158.54 298.53 L159.68 297.1 L160.84 295.69 L162.02 294.3 L163.23 292.92 L164.46 291.57 L165.7 290.24 L166.97 288.92 L168.25 287.62 L169.55 286.33 L170.87 285.06 L172.2 283.8 L173.54 282.56 L174.9 281.33 L176.27 280.11 L177.65 278.9 L179.04 277.7 L180.44 276.51 L181.85 275.33 L183.27 274.16 L184.69 272.99 L186.12 271.83 L187.55 270.68 L188.99 269.53 L190.44 268.38 L191.88 267.24 L193.33 266.09 L194.78 264.95 L196.22 263.81 L197.67 262.67 L199.11 261.53 L200.55 260.38 L202 259.24 L203.43 258.09 L204.87 256.95 L206.31 255.8 L207.75 254.65 L209.18 253.51 L210.62 252.36 L212.05 251.22 L213.49 250.07 L214.92 248.93 L216.36 247.78 L217.79 246.64 L219.23 245.5 L220.66 244.36 L222.1 243.22 L223.53 242.08 L224.97 240.95 L226.41 239.81 L227.85 238.68 L229.29 237.55 L230.73 236.42 L232.17 235.3 L233.62 234.17 L235.06 233.05 L236.51 231.94 L237.96 230.82 L239.41 229.71 L240.87 228.6 L242.33 227.5 L243.79 226.4 L245.25 225.3 L246.71 224.21 L248.18 223.12 L249.65 222.04 L251.13 220.96 L252.6 219.88 L254.08 218.81 L255.57 217.74 L257.06 216.68 L258.55 215.62 L260.05 214.57 L261.55 213.53 L263.05 212.49 L264.56 211.45 L266.07 210.42 L267.59 209.4 L269.12 208.38 L270.64 207.37 L272.18 206.37 L273.72 205.37 L275.26 204.38 L276.81 203.39 L278.36 202.42 L279.92 201.45 L281.49 200.48 L283.06 199.53 L284.63 198.58 L286.21 197.64 L287.79 196.7 L289.38 195.78 L290.98 194.86 L292.57 193.95 L294.18 193.04 L295.78 192.15 L297.4 191.26 L299.01 190.38 L300.64 189.51 L302.26 188.65 L303.89 187.79 L305.53 186.95 L307.17 186.11 L308.81 185.28 L310.46 184.46 L312.11 183.65 L313.77 182.85 L315.43 182.06 L317.09 181.28 L318.76 180.5 L320.43 179.74 L322.11 178.98 L323.79 178.24 L325.48 177.5 L327.16 176.78 L328.86 176.06 L330.55 175.36 L332.25 174.66 L333.96 173.97 L335.66 173.3 L337.38 172.63 L339.09 171.98 L340.81 171.34 L342.53 170.7 L344.25 170.08 L345.98 169.47 L347.72 168.87 L349.45 168.28 L351.19 167.71 L352.93 167.14 L354.68 166.58 L356.42 166.04 L358.18 165.5 L359.93 164.98 L361.69 164.46 L363.45 163.96 L365.21 163.46 L366.97 162.97 L368.74 162.5 L370.51 162.03 L372.28 161.56 L374.05 161.11 L375.83 160.66 L377.61 160.23 L379.39 159.79 L381.17 159.37 L382.96 158.95 L384.74 158.54 L386.53 158.14 L388.32 157.74 L390.11 157.34 L391.9 156.95 L393.69 156.57 L395.49 156.19 L397.28 155.82 L399.08 155.45 L400.88 155.09 L402.67 154.72 L404.47 154.37 L406.27 154.01 L408.07 153.66 L409.87 153.31 L411.68 152.97 L413.48 152.62 L415.28 152.28 L417.08 151.95 L418.89 151.61 L420.69 151.28 L422.49 150.95 L424.3 150.62 L426.1 150.29 L427.91 149.97 L429.71 149.65 L431.52 149.33 L433.32 149.01 L435.13 148.69 L436.94 148.38 L438.75 148.07 L440.55 147.76 L442.36 147.46 L444.17 147.15 L445.98 146.85 L447.79 146.55 L449.6 146.25 L451.41 145.96 L453.22 145.66 L455.03 145.37 L456.84 145.08 L458.65 144.79 L460.46 144.51 L462.27 144.22 L464.08 143.94 L465.89 143.66 L467.7 143.38 L469.52 143.1 L471.33 142.83 L473.14 142.55 L474.95 142.28 L476.77 142.01 L478.58 141.74 L480.39 141.47 L482.21 141.21 L484.02 140.94 L485.84 140.68 L487.65 140.42 L489.46 140.16 L491.28 139.9 L493.09 139.64 L494.91 139.39 L496.72 139.13 L498.54 138.88 L500.36 138.63 L502.17 138.38 L503.99 138.13 L505.8 137.88 L507.62 137.63 L509.44 137.38 L511.25 137.14 L513.07 136.89 L514.88 136.65 L516.7 136.4 L518.52 136.16 L520.34 135.92 L522.15 135.68 L523.97 135.44 L525.79 135.2 L527.6 134.96 L529.42 134.72 L531.24 134.48 L533.06 134.25 L534.87 134.01 L536.69 133.77 L538.51 133.54 L540.33 133.3 L542.15 133.06 L543.96 132.83 L545.78 132.59 L547.6 132.36 L549.42 132.13 L551.24 131.89 L553.06 131.66 L554.87 131.42 L556.69 131.19 L558.51 130.95 L560.33 130.72 L562.15 130.49 L563.97 130.25 L565.78 130.02 L567.6 129.78 L569.42 129.55 L571.24 129.31 L573.06 129.08 L574.88 128.84 L576.7 128.61 L578.51 128.37 L580.33 128.14 L582.15 127.9 L583.97 127.67 L585.79 127.43 L587.61 127.2 L589.43 126.96 L591.24 126.73 L593.06 126.49 L594.88 126.26 L596.7 126.02 L598.52 125.78 L600.34 125.55 L602.16 125.31 L603.97 125.08 L605.79 124.84 L607.61 124.61 L609.43 124.37 L611.25 124.13 L613.07 123.9 L614.89 123.66 L616.71 123.42 L618.52 123.19 L620.34 122.95 L622.16 122.72 L623.98 122.48 L625.8 122.24 L627.62 122.01 L629.44 121.77 L631.26 121.53 L633.07 121.3 L634.89 121.06 L636.71 120.82 L638.53 120.58 L640.35 120.35 L642.17 120.11 L643.99 119.87 L645.81 119.64 L647.62 119.4 L649.44 119.16 L651.26 118.92 L653.08 118.69 L654.9 118.45 L656.72 118.21 L658.54 117.98 L660.36 117.74 L662.18 117.5 L663.99 117.26 L665.81 117.03 L667.63 116.79 L669.45 116.55 L671.27 116.31 L673.09 116.07 L674.91 115.84 L676.73 115.6 L678.55 115.36 L680.36 115.12 L682.18 114.88 L684 114.65 L685.82 114.41 L687.64 114.17 L689.46 113.93 L691.28 113.69 L693.1 113.46 L694.92 113.22 L696.73 112.98 L698.55 112.74 L700.37 112.5 L702.19 112.26 L704.01 112.03 L705.83 111.79 L707.65 111.55 L709.47 111.31 L711.28 111.07 L713.1 110.83 L714.92 110.6 L716.74 110.36 L718.56 110.12 L720.38 109.88 L722.2 109.64 L724.02 109.4 L725.84 109.16 L727.65 108.93 L729.47 108.69 L731.29 108.45 L733.11 108.21 L734.93 107.97 L736.75 107.73 L738.57 107.49 L740.38 107.25 L742.2 107.01 L744.02 106.78 L745.84 106.54 L747.66 106.3 L749.48 106.06 L751.3 105.82 L753.12 105.58 L754.93 105.34 L756.75 105.1 L758.57 104.86 L760.39 104.63 L762.21 104.39 L764.03 104.15 L765.85 103.91 L767.66 103.67 L769.48 103.43 L771.3 103.19 L773.12 102.95 L774.94 102.71 L776.76 102.47 L778.58 102.23 L780.39 102 L782.21 101.76 L784.03 101.52 L785.85 101.28 L787.67 101.04 L789.49 100.8" stroke="#00ffff" stroke-width="3.3"/>
</g>
<path d="M124.3 162.5 H789.3" stroke="#000" stroke-width="1.4" fill="none"/>
<circle cx="168.0" cy="287.8" r="6.85" fill="#c00000"/>
<circle cx="145.1" cy="321.3" r="6.85" fill="#2e8b57"/>
<path d="M123.16 546.88 L120.96 547.6 L119.49 549.76 L118.75 553.36 L118.75 555.52 L119.49 559.12 L120.96 561.28 L123.16 562 L124.63 562 L126.84 561.28 L128.31 559.12 L129.04 555.52 L129.04 553.36 L128.31 549.76 L126.84 547.6 L124.63 546.88 L123.16 546.88 M278.39 550.48 L278.39 549.76 L279.13 548.32 L279.86 547.6 L281.33 546.88 L284.27 546.88 L285.74 547.6 L286.48 548.32 L287.21 549.76 L287.21 551.2 L286.48 552.64 L285.01 554.8 L277.66 562 L287.95 562 M296.77 546.88 L294.56 547.6 L293.09 549.76 L292.36 553.36 L292.36 555.52 L293.09 559.12 L294.56 561.28 L296.77 562 L298.24 562 L300.44 561.28 L301.91 559.12 L302.65 555.52 L302.65 553.36 L301.91 549.76 L300.44 547.6 L298.24 546.88 L296.77 546.88 M451.26 546.88 L443.91 556.96 L454.93 556.96 M451.26 546.88 L451.26 562 M463.02 546.88 L460.81 547.6 L459.34 549.76 L458.61 553.36 L458.61 555.52 L459.34 559.12 L460.81 561.28 L463.02 562 L464.49 562 L466.69 561.28 L468.16 559.12 L468.9 555.52 L468.9 553.36 L468.16 549.76 L466.69 547.6 L464.49 546.88 L463.02 546.88 M619.71 549.04 L618.97 547.6 L616.77 546.88 L615.3 546.88 L613.09 547.6 L611.62 549.76 L610.89 553.36 L610.89 556.96 L611.62 559.84 L613.09 561.28 L615.3 562 L616.03 562 L618.24 561.28 L619.71 559.84 L620.44 557.68 L620.44 556.96 L619.71 554.8 L618.24 553.36 L616.03 552.64 L615.3 552.64 L613.09 553.36 L611.62 554.8 L610.89 556.96 M629.26 546.88 L627.06 547.6 L625.59 549.76 L624.86 553.36 L624.86 555.52 L625.59 559.12 L627.06 561.28 L629.26 562 L630.74 562 L632.94 561.28 L634.41 559.12 L635.14 555.52 L635.14 553.36 L634.41 549.76 L632.94 547.6 L630.74 546.88 L629.26 546.88 M780.08 546.88 L777.87 547.6 L777.14 549.04 L777.14 550.48 L777.87 551.92 L779.34 552.64 L782.28 553.36 L784.49 554.08 L785.96 555.52 L786.69 556.96 L786.69 559.12 L785.96 560.56 L785.22 561.28 L783.02 562 L780.08 562 L777.87 561.28 L777.14 560.56 L776.4 559.12 L776.4 556.96 L777.14 555.52 L778.61 554.08 L780.81 553.36 L783.75 552.64 L785.22 551.92 L785.96 550.48 L785.96 549.04 L785.22 547.6 L783.02 546.88 L780.08 546.88 M795.51 546.88 L793.31 547.6 L791.84 549.76 L791.11 553.36 L791.11 555.52 L791.84 559.12 L793.31 561.28 L795.51 562 L796.99 562 L799.19 561.28 L800.66 559.12 L801.39 555.52 L801.39 553.36 L800.66 549.76 L799.19 547.6 L796.99 546.88 L795.51 546.88 M111.85 31.38 L104.5 41.46 L115.53 41.46 M111.85 31.38 L111.85 46.5 M105.97 149.08 L114.06 149.08 L109.65 154.84 L111.85 154.84 L113.33 155.56 L114.06 156.28 L114.8 158.44 L114.8 159.88 L114.06 162.04 L112.59 163.48 L110.38 164.2 L108.18 164.2 L105.97 163.48 L105.24 162.76 L104.5 161.32 M105.24 277.38 L105.24 276.66 L105.97 275.22 L106.71 274.5 L108.18 273.78 L111.12 273.78 L112.59 274.5 L113.33 275.22 L114.06 276.66 L114.06 278.1 L113.33 279.54 L111.85 281.7 L104.5 288.9 L114.8 288.9 M106.71 401.36 L108.18 400.64 L110.38 398.48 L110.38 413.6 M108.91 514.18 L106.71 514.9 L105.24 517.06 L104.5 520.66 L104.5 522.82 L105.24 526.42 L106.71 528.58 L108.91 529.3 L110.38 529.3 L112.59 528.58 L114.06 526.42 L114.8 522.82 L114.8 520.66 L114.06 517.06 L112.59 514.9 L110.38 514.18 L108.91 514.18 M399.44 575.78 L399.44 590.9 M399.44 575.78 L406.06 575.78 L408.26 576.5 L409 577.22 L409.73 578.66 L409.73 580.1 L409 581.54 L408.26 582.26 L406.06 582.98 L399.44 582.98 M404.58 582.98 L409.73 590.9 M420.02 572.9 L418.55 574.34 L417.08 576.5 L415.61 579.38 L414.88 582.98 L414.88 585.86 L415.61 589.46 L417.08 592.34 L418.55 594.5 L420.02 595.94 M426.64 578.66 L428.11 577.94 L430.31 575.78 L430.31 590.9 M443.54 575.78 L441.34 576.5 L439.87 578.66 L439.13 582.26 L439.13 584.42 L439.87 588.02 L441.34 590.18 L443.54 590.9 L445.01 590.9 L447.22 590.18 L448.69 588.02 L449.42 584.42 L449.42 582.26 L448.69 578.66 L447.22 576.5 L445.01 575.78 L443.54 575.78 M453.45 570.73 L458.56 570.73 L455.77 574.38 L457.17 574.38 L458.1 574.83 L458.56 575.29 L459.03 576.65 L459.03 577.57 L458.56 578.93 L457.63 579.84 L456.24 580.3 L454.84 580.3 L453.45 579.84 L452.98 579.39 L452.52 578.48 M474.52 575.78 L474.52 590.9 M481.87 580.82 L474.52 588.02 M477.46 585.14 L482.61 590.9 M487.02 580.82 L487.02 590.9 M487.02 583.7 L489.22 581.54 L490.69 580.82 L492.9 580.82 L494.37 581.54 L495.1 583.7 L495.1 590.9 M495.1 583.7 L497.31 581.54 L498.78 580.82 L500.98 580.82 L502.45 581.54 L503.19 583.7 L503.19 590.9 M508.33 572.9 L509.8 574.34 L511.27 576.5 L512.74 579.38 L513.48 582.98 L513.48 585.86 L512.74 589.46 L511.27 592.34 L509.8 594.5 L508.33 595.94" fill="none" stroke="#000" stroke-width="1.4" stroke-linecap="butt" stroke-linejoin="round"/>
<g transform="translate(82.2 314.9) rotate(-90)" fill="none" stroke="#000" stroke-width="1.4"><path d="M2.94 -15.12 L2.94 0 M2.94 -15.12 L8.82 0 M14.7 -15.12 L8.82 0 M14.7 -15.12 L14.7 0 M25.73 -18 L24.26 -16.56 L22.79 -14.4 L21.32 -11.52 L20.58 -7.92 L20.58 -5.04 L21.32 -1.44 L22.79 1.44 L24.26 3.6 L25.73 5.04 M30.87 -15.12 L30.87 0 M30.87 -15.12 L36.75 0 M42.63 -15.12 L36.75 0 M42.63 -15.12 L42.63 0 M59.88 -18 L61.34 -16.56 L62.81 -14.4 L64.28 -11.52 L65.02 -7.92 L65.02 -5.04 L64.28 -1.44 L62.81 1.44 L61.34 3.6 L59.88 5.04"/><circle cx="51.57" cy="0.7" r="5.0"/><circle cx="51.57" cy="0.7" r="1.0" fill="#000" stroke="none"/></g>
<g fill="none" stroke="#000" stroke-width="1.5"><path d="M169 72.73 L169 93.2 M169 72.73 L176.8 93.2 M184.6 72.73 L176.8 93.2 M184.6 72.73 L184.6 93.2 M192.4 81.5 L209.95 81.5 M192.4 87.35 L209.95 87.35 M219.7 76.62 L221.65 75.65 L224.57 72.73 L224.57 93.2 M247.97 72.73 L238.22 72.73 L237.25 81.5 L238.22 80.53 L241.15 79.55 L244.07 79.55 L247 80.53 L248.95 82.48 L249.92 85.4 L249.92 87.35 L248.95 90.28 L247 92.23 L244.07 93.2 L241.15 93.2 L238.22 92.23 L237.25 91.25 L236.28 89.3 M272.35 72.73 L272.35 93.2 M272.35 72.73 L280.15 93.2 M287.95 72.73 L280.15 93.2 M287.95 72.73 L287.95 93.2"/><circle cx="300.7" cy="94.1" r="6.45"/><circle cx="300.7" cy="94.1" r="1.3" fill="#000" stroke="none"/></g>
<path d="M650.04 364.78 L650.04 379.9 M660.33 364.78 L660.33 379.9 M650.04 371.98 L660.33 371.98 M665.48 374.14 L674.29 374.14 L674.29 372.7 L673.56 371.26 L672.82 370.54 L671.36 369.82 L669.15 369.82 L667.68 370.54 L666.21 371.98 L665.48 374.14 L665.48 375.58 L666.21 377.74 L667.68 379.18 L669.15 379.9 L671.36 379.9 L672.82 379.18 L674.29 377.74 M679.44 373.42 L692.67 373.42 M697.82 374.14 L706.63 374.14 L706.63 372.7 L705.9 371.26 L705.16 370.54 L703.7 369.82 L701.49 369.82 L700.02 370.54 L698.55 371.98 L697.82 374.14 L697.82 375.58 L698.55 377.74 L700.02 379.18 L701.49 379.9 L703.7 379.9 L705.16 379.18 L706.63 377.74 M711.05 369.82 L719.13 379.9 M719.13 369.82 L711.05 379.9 M724.28 364.78 L724.28 379.9 M724.28 372.7 L726.48 370.54 L727.95 369.82 L730.16 369.82 L731.62 370.54 L732.36 372.7 L732.36 379.9" fill="none" stroke="#000" stroke-width="1.4"/>
<path d="M660.33 390.88 L659.6 389.44 L658.12 388 L656.65 387.28 L653.72 387.28 L652.25 388 L650.77 389.44 L650.04 390.88 L649.31 393.04 L649.31 396.64 L650.04 398.8 L650.77 400.24 L652.25 401.68 L653.72 402.4 L656.65 402.4 L658.12 401.68 L659.6 400.24 L660.33 398.8 M665.48 395.92 L678.7 395.92 M683.85 387.28 L684.59 388 L685.32 387.28 L684.59 386.56 L683.85 387.28 M684.59 392.32 L684.59 402.4 M698.55 392.32 L698.55 403.84 L697.81 406 L697.08 406.72 L695.61 407.44 L693.4 407.44 L691.93 406.72 M698.55 394.48 L697.08 393.04 L695.61 392.32 L693.4 392.32 L691.93 393.04 L690.47 394.48 L689.73 396.64 L689.73 398.08 L690.47 400.24 L691.93 401.68 L693.4 402.4 L695.61 402.4 L697.08 401.68 L698.55 400.24 M704.43 392.32 L704.43 402.4 M704.43 395.2 L706.63 393.04 L708.11 392.32 L710.31 392.32 L711.78 393.04 L712.51 395.2 L712.51 402.4" fill="none" stroke="#ff0000" stroke-width="1.4"/>
<path d="M660.33 413.38 L659.6 411.94 L658.12 410.5 L656.65 409.78 L653.72 409.78 L652.25 410.5 L650.77 411.94 L650.04 413.38 L649.31 415.54 L649.31 419.14 L650.04 421.3 L650.77 422.74 L652.25 424.18 L653.72 424.9 L656.65 424.9 L658.12 424.18 L659.6 422.74 L660.33 421.3 M665.48 418.42 L678.7 418.42 M683.85 419.14 L692.67 419.14 L692.67 417.7 L691.93 416.26 L691.2 415.54 L689.73 414.82 L687.52 414.82 L686.05 415.54 L684.59 416.98 L683.85 419.14 L683.85 420.58 L684.59 422.74 L686.05 424.18 L687.52 424.9 L689.73 424.9 L691.2 424.18 L692.67 422.74 M697.08 414.82 L705.16 424.9 M705.16 414.82 L697.08 424.9 M710.31 409.78 L710.31 424.9 M710.31 417.7 L712.51 415.54 L713.99 414.82 L716.19 414.82 L717.66 415.54 L718.39 417.7 L718.39 424.9" fill="none" stroke="#00ff00" stroke-width="1.4"/>
<path d="M650.04 432.28 L650.04 447.4 M650.04 432.28 L660.33 447.4 M660.33 432.28 L660.33 447.4 M665.48 441.64 L674.29 441.64 L674.29 440.2 L673.56 438.76 L672.82 438.04 L671.36 437.32 L669.15 437.32 L667.68 438.04 L666.21 439.48 L665.48 441.64 L665.48 443.08 L666.21 445.24 L667.68 446.68 L669.15 447.4 L671.36 447.4 L672.82 446.68 L674.29 445.24 M679.44 440.92 L692.67 440.92 M697.82 441.64 L706.63 441.64 L706.63 440.2 L705.9 438.76 L705.16 438.04 L703.7 437.32 L701.49 437.32 L700.02 438.04 L698.55 439.48 L697.82 441.64 L697.82 443.08 L698.55 445.24 L700.02 446.68 L701.49 447.4 L703.7 447.4 L705.16 446.68 L706.63 445.24 M711.05 437.32 L719.13 447.4 M719.13 437.32 L711.05 447.4 M724.28 432.28 L724.28 447.4 M724.28 440.2 L726.48 438.04 L727.95 437.32 L730.16 437.32 L731.62 438.04 L732.36 440.2 L732.36 447.4" fill="none" stroke="#0000ff" stroke-width="1.4"/>
<path d="M653.72 454.78 L652.25 455.5 L650.77 456.94 L650.04 458.38 L649.31 460.54 L649.31 464.14 L650.04 466.3 L650.77 467.74 L652.25 469.18 L653.72 469.9 L656.65 469.9 L658.12 469.18 L659.6 467.74 L660.33 466.3 L661.07 464.14 L661.07 460.54 L660.33 458.38 L659.6 456.94 L658.12 455.5 L656.65 454.78 L653.72 454.78 M666.21 463.42 L679.44 463.42 M684.59 464.14 L693.4 464.14 L693.4 462.7 L692.67 461.26 L691.93 460.54 L690.47 459.82 L688.26 459.82 L686.79 460.54 L685.32 461.98 L684.59 464.14 L684.59 465.58 L685.32 467.74 L686.79 469.18 L688.26 469.9 L690.47 469.9 L691.93 469.18 L693.4 467.74 M697.82 459.82 L705.9 469.9 M705.9 459.82 L697.82 469.9 M711.05 454.78 L711.05 469.9 M711.05 462.7 L713.25 460.54 L714.72 459.82 L716.93 459.82 L718.39 460.54 L719.13 462.7 L719.13 469.9" fill="none" stroke="#ff00ff" stroke-width="1.4"/>
<path d="M650.04 477.28 L650.04 492.4 M664 482.32 L664 492.4 M664 484.48 L662.53 483.04 L661.07 482.32 L658.86 482.32 L657.39 483.04 L655.92 484.48 L655.19 486.64 L655.19 488.08 L655.92 490.24 L657.39 491.68 L658.86 492.4 L661.07 492.4 L662.53 491.68 L664 490.24 M677.24 484.48 L676.5 483.04 L674.3 482.32 L672.09 482.32 L669.89 483.04 L669.15 484.48 L669.89 485.92 L671.36 486.64 L675.03 487.36 L676.5 488.08 L677.24 489.52 L677.24 490.24 L676.5 491.68 L674.3 492.4 L672.09 492.4 L669.89 491.68 L669.15 490.24 M683.12 477.28 L683.12 489.52 L683.85 491.68 L685.32 492.4 L686.79 492.4 M680.91 482.32 L686.06 482.32" fill="none" stroke="#00ffff" stroke-width="1.4"/>
</svg>
</body></html>
